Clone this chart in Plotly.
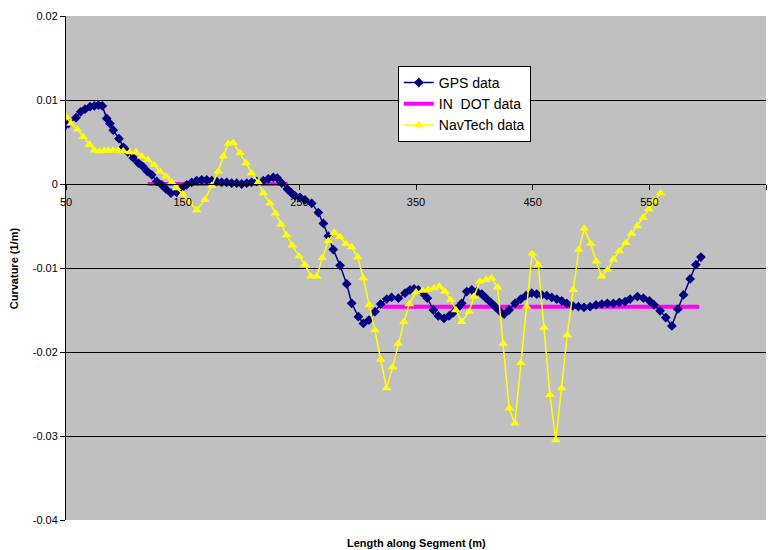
import plotly.graph_objects as go

# GPS-derived curvature along the segment
gps_x = [46, 52, 58.6, 62.6, 66.3, 70.6, 74.3, 77.7, 81.1, 84.9,
         87.7, 90.5, 95.4, 99.1, 103, 107.7, 112, 115.7, 119.7, 123.5,
         127.7, 132, 135.7, 140, 144.9, 149.2, 153.4, 157.7, 162, 166.3,
         170.6, 174.9, 179.1, 183.4, 187.7, 192, 196.3, 200.6, 204.9, 209.1,
         213.4, 219.1, 223.4, 227.7, 231.1, 234.9, 239.7, 243.4, 246.3, 250.6,
         254.9, 260.6, 266.3, 270.6, 274.9, 279.1, 284.9, 290.6, 294.9, 300.6,
         304.9, 309.7, 314.9, 319.7, 324.9, 329.1, 334.9, 340.6, 344.9, 348.3,
         352.0, 355.8, 359.7, 364.9, 369.1, 374.0, 378.3, 382.0, 385.4, 389.2,
         393.5, 397.8, 402.1, 406.4, 410.1, 414.1, 417.8, 421.5, 425.5, 429.8,
         434.9, 439.8, 444.3, 449.2, 453.5, 457.8, 462.1, 466.3, 470.6, 474.9,
         479.2, 484.3, 489.2, 494.0, 499.2, 504.3, 509.2, 514.0, 519.2, 524.3,
         529.2, 533.5, 539.8, 544.9, 550.1, 554.1, 559.2, 564.1, 569.3, 574.4,
         579.3, 585.0, 589.9, 594.2]
gps_y = [0.0054, 0.0072, 0.0079, 0.0086, 0.0089, 0.0092, 0.0093, 0.0094, 0.0093, 0.0078,
         0.0072, 0.0064, 0.0054, 0.0044, 0.0038, 0.0031, 0.0025, 0.0021, 0.0015, 0.0011,
         0.0003, -0.0001, -0.0006, -0.0011, -0.0010, -0.0005, -0.0001, 0.0002, 0.0004, 0.0005,
         0.0005, 0.0004, 0.0003, 0.0002, 0.0002, 0.0001, 0.0001, 0.0000, 0.0001, 0.0002,
         0.0003, 0.0004, 0.0006, 0.0008, 0.0007, 0.0001, -0.0006, -0.0011, -0.0014, -0.0016,
         -0.0019, -0.0023, -0.0034, -0.0047, -0.0062, -0.0078, -0.0097, -0.0119, -0.0142, -0.0158,
         -0.0166, -0.0162, -0.0152, -0.0143, -0.0137, -0.0135, -0.0136, -0.0130, -0.0126, -0.0125,
         -0.0126, -0.0130, -0.0136, -0.0150, -0.0157, -0.0160, -0.0157, -0.0153, -0.0148, -0.0142,
         -0.0128, -0.0126, -0.0128, -0.0131, -0.0136, -0.0141, -0.0146, -0.0151, -0.0155, -0.0150,
         -0.0142, -0.0137, -0.0133, -0.0130, -0.0131, -0.0132, -0.0133, -0.0135, -0.0137, -0.0139,
         -0.0142, -0.0145, -0.0146, -0.0147, -0.0146, -0.0144, -0.0143, -0.0142, -0.0142, -0.0141,
         -0.0140, -0.0137, -0.0134, -0.0136, -0.0139, -0.0144, -0.0151, -0.0159, -0.0169, -0.0149,
         -0.0132, -0.0113, -0.0096, -0.0087]

# Design curvature from the IN DOT plans (tangent, then constant-radius curve)
indot_x = [120, 240, None, 320.6, 592.8]
indot_y = [0.0, 0.0, None, -0.0146, -0.0146]

# NavTech map-derived curvature
nav_x = [50.0, 54.3, 59.7, 64.8, 70.0, 74.3, 78.5, 82.8, 86.3, 90.5,
         94.8, 99.1, 104.8, 110.0, 114.9, 120.0, 125.4, 130.6, 135.7, 140.6,
         144.9, 150.0, 155.4, 162.0, 169.1, 174.9, 180.5, 184.8, 189.1, 193.4,
         199.1, 204.3, 209.1, 214.8, 219.1, 224.8, 229.7, 234.3, 239.1, 243.9,
         249.9, 254.8, 260.0, 264.9, 269.7, 274.8, 279.9, 284.8, 290.0, 294.8,
         300.0, 304.8, 309.9, 314.8, 319.7, 324.8, 330.0, 334.8, 339.7, 344.2,
         350.0, 355.7, 360.5, 365.4, 369.9, 374.8, 379.7, 384.2, 389.1, 395.6,
         399.7, 404.8, 410.0, 414.8, 420.0, 424.8, 429.9, 434.8, 439.7, 444.8,
         449.6, 454.8, 459.7, 464.8, 469.9, 474.8, 479.6, 484.8, 489.6, 494.2,
         499.7, 504.5, 509.1, 514.3, 519.1, 524.2, 529.7, 534.8, 539.6, 544.7,
         549.6, 554.5, 559.6]
nav_y = [0.0080, 0.0072, 0.0065, 0.0056, 0.0047, 0.0040, 0.0039, 0.0040, 0.0040, 0.0040,
         0.0040, 0.0039, 0.0038, 0.0038, 0.0033, 0.0029, 0.0023, 0.0015, 0.0009, 0.0002,
         -0.0005, -0.0012, -0.0021, -0.0031, -0.0019, -0.0002, 0.0015, 0.0033, 0.0048, 0.0049,
         0.0037, 0.0025, 0.0013, 0.0002, -0.0011, -0.0023, -0.0035, -0.0048, -0.0061, -0.0073,
         -0.0086, -0.0096, -0.0110, -0.0110, -0.0088, -0.0068, -0.0058, -0.0063, -0.0071, -0.0075,
         -0.0087, -0.0112, -0.0144, -0.0174, -0.0209, -0.0243, -0.0218, -0.0190, -0.0164, -0.0143,
         -0.0129, -0.0127, -0.0126, -0.0124, -0.0122, -0.0128, -0.0138, -0.0150, -0.0164, -0.0152,
         -0.0134, -0.0116, -0.0114, -0.0112, -0.0123, -0.0190, -0.0267, -0.0285, -0.0213, -0.0146,
         -0.0083, -0.0096, -0.0171, -0.0251, -0.0305, -0.0243, -0.0180, -0.0126, -0.0078, -0.0053,
         -0.0071, -0.0092, -0.0110, -0.0102, -0.0090, -0.0080, -0.0070, -0.0059, -0.0050, -0.0040,
         -0.0030, -0.0020, -0.0011]

# Axis ticks
x_ticks = [50, 150, 250, 350, 450, 550, 650]
x_tick_labels = ["50", "150", "250", "350", "450", "550", "650"]
y_ticks = [-0.04, -0.03, -0.02, -0.01, 0.0, 0.01, 0.02]
y_tick_labels = ["-0.04", "-0.03", "-0.02", "-0.01", "0", "0.01", "0.02"]

FONT = "Liberation Sans, Arial, sans-serif"

fig = go.Figure()

fig.add_trace(go.Scatter(
    x=indot_x, y=indot_y, name="IN  DOT data", mode="lines",
    line=dict(color="#FF00FF", width=4), legendrank=2,
))
fig.add_trace(go.Scatter(
    x=gps_x, y=gps_y, name="GPS data", mode="lines+markers",
    line=dict(color="#000080", width=1.5),
    marker=dict(symbol="diamond", size=7.5, color="#000080"), legendrank=1,
))
fig.add_trace(go.Scatter(
    x=nav_x, y=nav_y, name="NavTech data", mode="lines+markers",
    line=dict(color="#FFFF00", width=1.5),
    marker=dict(symbol="triangle-up", size=8.5, color="#FFFF00"), legendrank=3,
))

fig.update_layout(
    width=773, height=550,
    margin=dict(l=66, r=7, t=16, b=30),
    paper_bgcolor="white",
    plot_bgcolor="#C0C0C0",
    font=dict(family=FONT, size=11, color="black"),
    showlegend=True,
    legend=dict(
        x=0.474, y=0.901, xanchor="left", yanchor="top",
        bgcolor="white", bordercolor="black", borderwidth=1,
        font=dict(family=FONT, size=14, color="black"),
        tracegroupgap=0, itemwidth=30,
    ),
    xaxis=dict(
        range=[50, 650], anchor="free", position=2 / 3,
        tickvals=x_ticks, ticktext=x_tick_labels,
        showgrid=False, zeroline=False,
        showline=True, linecolor="black", linewidth=1,
        ticks="outside", ticklen=5, tickcolor="black",
        ticklabelstandoff=3,
        tickfont=dict(family=FONT, size=11, color="black"),
    ),
    yaxis=dict(
        range=[-0.04, 0.02], domain=[0, 1],
        tickvals=y_ticks, ticktext=y_tick_labels,
        showgrid=True, gridcolor="black", gridwidth=1,
        zeroline=False,
        showline=True, linecolor="black", linewidth=1,
        ticks="outside", ticklen=5, tickcolor="black",
        tickfont=dict(family=FONT, size=11, color="black"),
    ),
    annotations=[
        dict(text="<b>Length along Segment (m)</b>", xref="paper", yref="paper",
             x=0.5, y=-0.046, xanchor="center", yanchor="middle", showarrow=False,
             font=dict(family=FONT, size=11, color="black")),
        dict(text="<b>Curvature (1/m)</b>", xref="paper", yref="paper",
             x=-0.074, y=0.5, xanchor="center", yanchor="middle", showarrow=False,
             textangle=-90, font=dict(family=FONT, size=11, color="black")),
    ],
)

fig.write_html("out.html")
